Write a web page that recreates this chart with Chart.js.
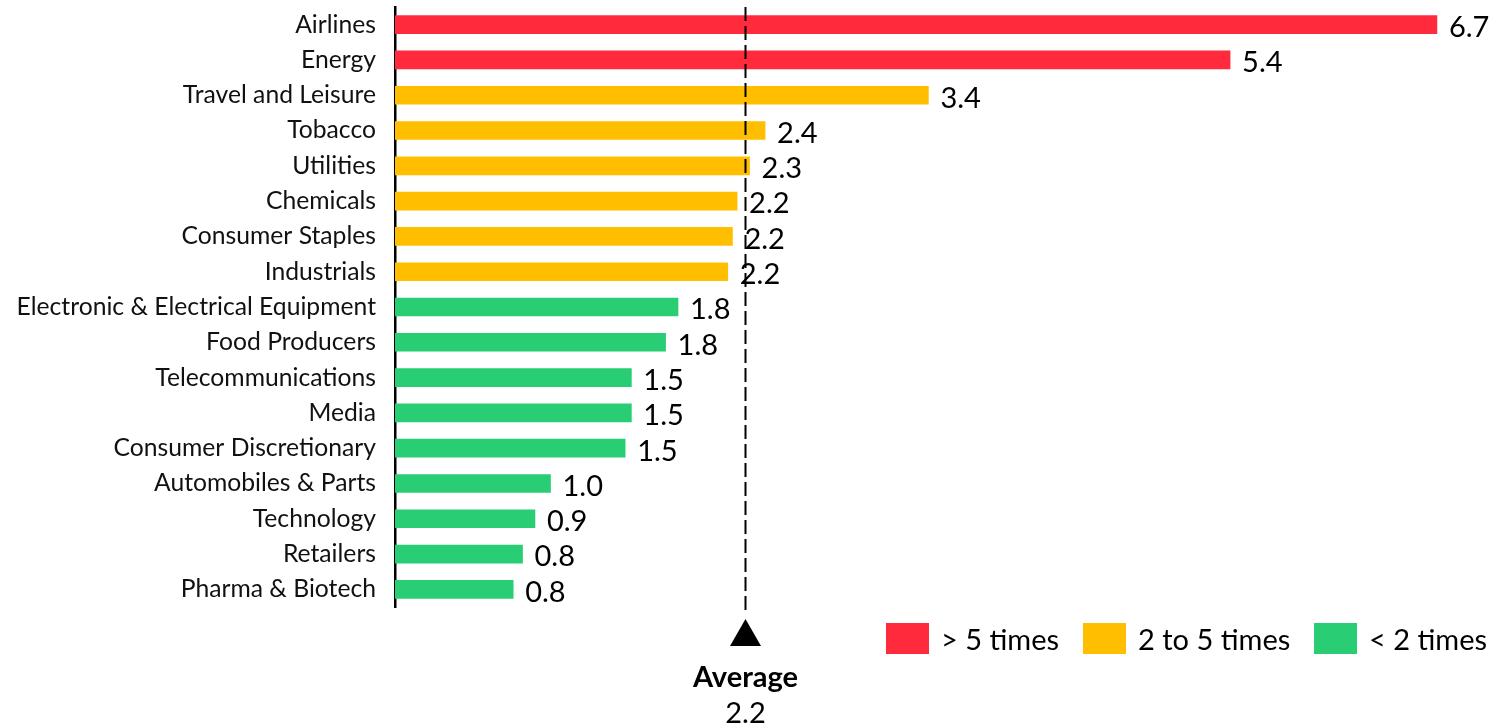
<!DOCTYPE html>
<html lang="en">
<head>
  <meta charset="UTF-8">
  <title>Sector multiples</title>
  <script src="https://cdn.jsdelivr.net/npm/chart.js"></script>
  <style>
    body { margin: 0; padding: 0; background: #fff; }
    .wrap { width: 1491px; height: 727px; position: relative; }
  </style>
</head>
<body>
  <div class="wrap"><canvas id="chart"></canvas></div>

  <script>
    // sectors, top to bottom
    const sectors = [
      'Airlines', 'Energy', 'Travel and Leisure', 'Tobacco', 'Utilities',
      'Chemicals', 'Consumer Staples', 'Industrials',
      'Electronic & Electrical Equipment', 'Food Producers',
      'Telecommunications', 'Media', 'Consumer Discretionary',
      'Automobiles & Parts', 'Technology', 'Retailers', 'Pharma & Biotech'
    ];
    const values = [6.7, 5.37, 3.43, 2.38, 2.28, 2.2, 2.17, 2.14, 1.82, 1.74, 1.52, 1.52, 1.48, 1.0, 0.9, 0.82, 0.76];
    const valueLabels = ['6.7', '5.4', '3.4', '2.4', '2.3', '2.2', '2.2', '2.2', '1.8', '1.8', '1.5', '1.5', '1.5', '1.0', '0.9', '0.8', '0.8'];
    // 0: > 5 times, 1: 2 to 5 times, 2: < 2 times
    const groups = [0, 0, 1, 1, 1, 1, 1, 1, 2, 2, 2, 2, 2, 2, 2, 2, 2];
    const groupNames = ['> 5 times', '2 to 5 times', '< 2 times'];
    const groupColors = ['#FF2B3D', '#FFBF00', '#29CE74'];
    const averageValue = 2.25;
    const averageLabel = '2.2';

    const FONT = 'Lato, "Open Sans", sans-serif';

    // value labels at the end of each bar
    const barLabels = {
      id: 'barLabels',
      afterDatasetsDraw(chart) {
        const ctx = chart.ctx;
        const meta = chart.getDatasetMeta(0);
        ctx.save();
        ctx.font = '29px ' + FONT;
        ctx.fillStyle = '#000';
        ctx.textAlign = 'left';
        ctx.textBaseline = 'middle';
        meta.data.forEach((bar, i) => {
          ctx.fillText(valueLabels[i], bar.x + 12, bar.y + 3);
        });
        ctx.restore();
      }
    };

    // dashed average line, marker and legend
    const averageMarker = {
      id: 'averageMarker',
      afterDraw(chart) {
        const ctx = chart.ctx;
        const area = chart.chartArea;
        const x = Math.round(chart.scales.x.getPixelForValue(averageValue)) + 0.5;
        ctx.save();
        ctx.strokeStyle = '#000';
        ctx.lineWidth = 2;
        ctx.setLineDash([14, 5]);
        ctx.beginPath();
        ctx.moveTo(x, area.top);
        ctx.lineTo(x, area.bottom + 3);
        ctx.stroke();
        ctx.setLineDash([]);

        // triangle
        ctx.fillStyle = '#000';
        ctx.beginPath();
        ctx.moveTo(x, 619);
        ctx.lineTo(x - 15.5, 646);
        ctx.lineTo(x + 15.5, 646);
        ctx.closePath();
        ctx.fill();

        ctx.textAlign = 'center';
        ctx.textBaseline = 'alphabetic';
        ctx.font = 'bold 29px ' + FONT;
        ctx.fillText('Average', x, 687);
        ctx.font = '29px ' + FONT;
        ctx.fillText(averageLabel, x, 723);

        // legend
        const legendX = [886, 1083, 1314];
        ctx.textAlign = 'left';
        ctx.textBaseline = 'middle';
        groupNames.forEach((name, i) => {
          ctx.fillStyle = groupColors[i];
          ctx.fillRect(legendX[i], 623, 43, 31);
          ctx.fillStyle = '#000';
          ctx.fillText(name, legendX[i] + 55, 641);
        });
        ctx.restore();
      }
    };

    new Chart(document.getElementById('chart'), {
      type: 'bar',
      data: {
        labels: sectors,
        datasets: [{
          data: values,
          backgroundColor: groups.map(g => groupColors[g]),
          barThickness: 18
        }]
      },
      options: {
        indexAxis: 'y',
        responsive: true,
        maintainAspectRatio: false,
        animation: false,
        layout: { padding: { top: 7, bottom: 120, left: 0, right: 23 } },
        plugins: {
          legend: { display: false },
          tooltip: { enabled: false }
        },
        scales: {
          x: {
            display: false,
            min: 0,
            max: 6.9
          },
          y: {
            afterFit(scale) {
              scale.width = 395;
              scale.paddingTop = 0;
              scale.paddingBottom = 0;
            },
            grid: { display: false, drawTicks: false },
            border: { display: true, color: '#000', width: 2.5 },
            ticks: {
              color: '#111',
              padding: 19,
              font: { family: FONT, size: 24.7 }
            }
          }
        }
      },
      plugins: [barLabels, averageMarker]
    });
  </script>
</body>
</html>
